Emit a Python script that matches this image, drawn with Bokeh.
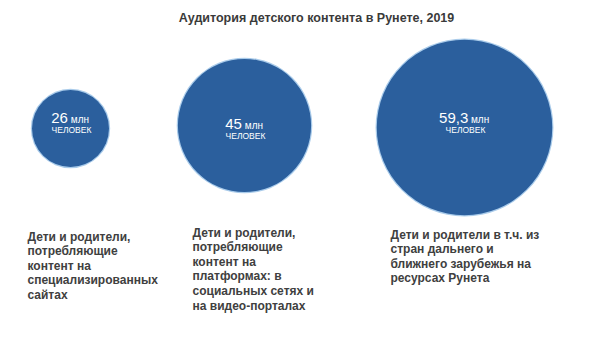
from bokeh.plotting import figure
from bokeh.models import Range1d
from bokeh.core.properties import value
from bokeh.embed import file_html
from bokeh.resources import INLINE

title = "Аудитория детского контента в Рунете, 2019"
values = [26, 45, 59.3]
value_labels = ["26", "45", "59,3"]
unit = "млн"
unit2 = "ЧЕЛОВЕК"
descriptions = [
    ["Дети и родители,", "потребляющие", "контент на", "специализированных", "сайтах"],
    ["Дети и родители,", "потребляющие", "контент на", "платформах: в", "социальных сетях и", "на видео-порталах"],
    ["Дети и родители в т.ч. из", "стран дальнего и", "ближнего зарубежья на", "ресурсах Рунета"],
]

W, H = 600, 340
p = figure(width=W, height=H, output_backend="svg", toolbar_location=None,
           x_range=Range1d(0, W), y_range=Range1d(H, 0),
           min_border=0, min_border_left=0, min_border_right=0,
           min_border_top=0, min_border_bottom=0)
p.axis.visible = False
p.grid.visible = False
p.outline_line_color = None
p.background_fill_color = "white"
p.border_fill_color = "white"

cx = [70, 244, 464]
cy = [128, 125, 127]
k = 1.48
radii = [v * k for v in values]

p.circle(x=cx, y=cy, radius=[r + 1.2 for r in radii], fill_color="#6fa8dc",
         fill_alpha=0.6, line_color=None)
p.circle(x=cx, y=cy, radius=radii, fill_color="#2b5f9d", line_color=None)

font = value("Liberation Sans")
num_y = [cy[0] - 11, cy[1] - 2, cy[2] - 10]
for i in range(3):
    ntext = value_labels[i]
    digits = sum(1 for c in ntext if c.isdigit())
    num_w = digits * 8.3 + (4 if "," in ntext else 0)
    unit_w = 19
    total = num_w + 3 + unit_w
    x0 = cx[i] - total / 2
    p.text(x=[x0], y=[num_y[i]], text=[ntext], text_font=font, text_font_size="15px",
           text_color="white", text_baseline="middle", text_align="left")
    p.text(x=[x0 + num_w + 3], y=[num_y[i] + 1.5], text=[unit], text_font=font,
           text_font_size="10px", text_color="white", text_baseline="middle", text_align="left")
    p.text(x=[cx[i] + 1], y=[num_y[i] + 12], text=[unit2], text_font=font, text_font_size="8.5px",
           text_color="white", text_baseline="middle", text_align="center")

p.text(x=[316], y=[17], text=[title], text_font=font, text_font_style="bold",
       text_font_size="12.5px", text_color="#3a3a3a", text_baseline="middle", text_align="center")

desc_x = [27, 192, 390]
desc_y0 = [236, 232, 234]
lh = 14.6
for i in range(3):
    lines = descriptions[i]
    p.text(x=[desc_x[i]] * len(lines), y=[desc_y0[i] + j * lh for j in range(len(lines))],
           text=lines, text_font=font, text_font_style="bold", text_font_size="12px",
           text_color="#404040", text_baseline="middle", text_align="left")

open("out.html", "w").write(file_html(p, INLINE))
